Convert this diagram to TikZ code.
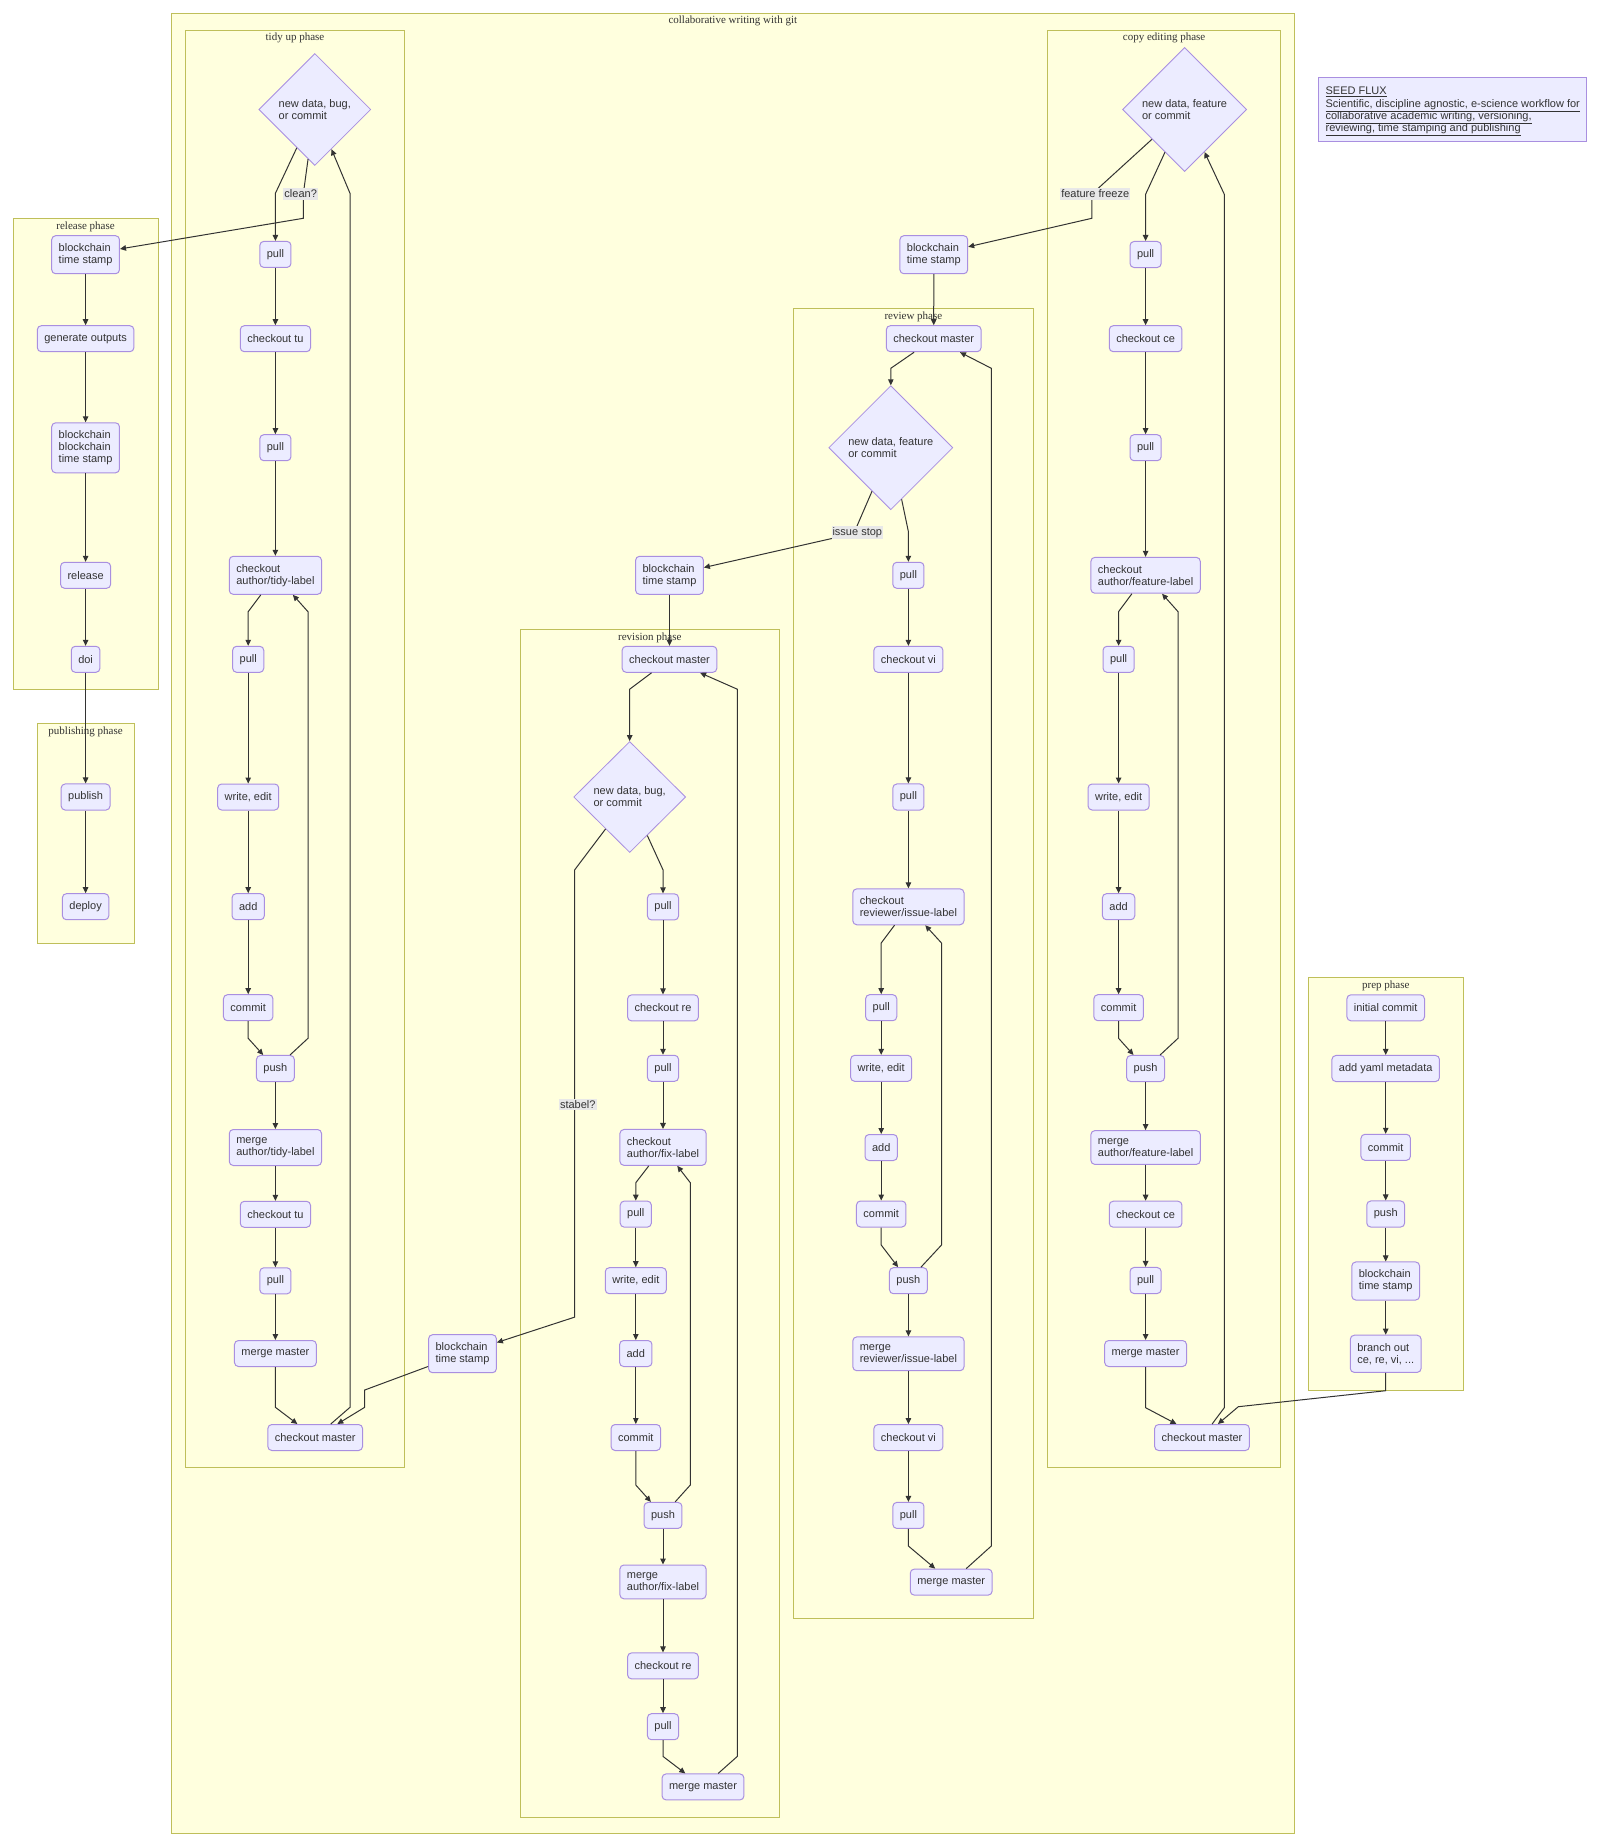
\documentclass[tikz,border=0pt]{standalone}
\usepackage{fontspec}
\setmainfont{Liberation Sans}
\newfontfamily\serifx{Liberation Serif}
\usetikzlibrary{shapes.geometric,arrows.meta}
\definecolor{nfill}{HTML}{ECECFF}
\definecolor{nline}{HTML}{A98FE0}
\definecolor{cfill}{HTML}{FFFFDE}
\definecolor{cline}{HTML}{BFBF5A}
\definecolor{txt}{HTML}{333333}
\definecolor{lblbg}{HTML}{E8E8E8}
\begin{document}
\begin{tikzpicture}[x=1pt,y=-1pt,
  box/.style={draw=nline, fill=nfill, line width=1pt, rounded corners=4pt, align=left,
    inner xsep=7pt, inner ysep=7.9pt, minimum height=26pt,
    font=\fontsize{11}{12}\selectfont, text=txt},
  dia/.style={diamond, draw=nline, fill=nfill, line width=0.8pt, inner sep=0pt, align=left,
    font=\fontsize{11}{12}\selectfont, text=txt},
  cluster/.style={draw=cline, fill=cfill, line width=1pt},
  ctitle/.style={font=\serifx\fontsize{11}{12}\selectfont, text=txt, inner sep=0pt},
  edge/.style={draw=txt, line width=1pt, -{Triangle[length=6pt,width=5.5pt]}},
  elabel/.style={fill=lblbg, text=txt, inner xsep=1pt, inner ysep=1.5pt, font=\fontsize{11}{12}\selectfont},
]
\useasboundingbox (0,0) rectangle (1600,1834);
\fill[white] (0,0) rectangle (1600,1834);

% clusters
\draw[cluster] (171,13.3) rectangle (1294.6,1833);
\draw[cluster] (185.3,30.3) rectangle (404.7,1467.9);
\draw[cluster] (13.3,218.3) rectangle (158,689.3);
\draw[cluster] (37.3,723.7) rectangle (134.3,943.3);
\draw[cluster] (520.3,629.1) rectangle (779.3,1817.5);
\draw[cluster] (793.3,308.3) rectangle (1033.5,1618.2);
\draw[cluster] (1047.5,30.3) rectangle (1280.7,1467.9);
\draw[cluster] (1308,977.3) rectangle (1463.7,1390.3);

\node[ctitle] (t0) at (732.8,21) {collaborative writing with git};
\node[ctitle] (t1) at (295,38.2) {tidy up phase};
\node[ctitle] (t2) at (85.6,226.5) {release phase};
\node[ctitle] (t3) at (85.6,732.2) {publishing phase};
\node[ctitle] (t4) at (649.8,637.5) {revision phase};
\node[ctitle] (t5) at (913.4,316.5) {review phase};
\node[ctitle] (t6) at (1164.1,38.2) {copy editing phase};
\node[ctitle] (t7) at (1385.8,985.5) {prep phase};

% SEED FLUX note
\node[draw=nline, fill=nfill, line width=1pt, minimum width=268.2pt, minimum height=63.6pt, inner sep=0pt] (seed) at (1452.3,109.5) {};
\node[align=left, anchor=north west, inner sep=0pt, font=\fontsize{11}{12.4}\selectfont, text=txt] (seedtext) at (1325.4,86.8)
  {\underline{SEED FLUX}\\\underline{Scientific, discipline agnostic, e-science workflow for}\\\underline{collaborative academic writing, versioning,}\\\underline{reviewing, time stamping and publishing}};

% release + publishing
\node[box] (rb1) at (85.6,254.7) {blockchain\\time stamp};
\node[box] (rgen) at (85.6,338.7) {generate outputs};
\node[box] (rbb) at (85.6,447.8) {blockchain\\blockchain\\time stamp};
\node[box] (rrel) at (85.6,575.3) {release};
\node[box] (rdoi) at (85.6,659.3) {doi};
\node[box] (ppub) at (85.6,797) {publish};
\node[box] (pdep) at (85.6,906.7) {deploy};

% tidy up
\node[dia, minimum width=112pt, minimum height=112pt] (td) at (314.8,109.5) {new data, bug,\\or commit};
\node[box] (tp1) at (275.4,254.4) {pull};
\node[box] (tco1) at (275.4,338.7) {checkout tu};
\node[box] (tp2) at (275.4,447.7) {pull};
\node[box] (tca) at (275.4,575.3) {checkout\\author/tidy-label};
\node[box] (tp3) at (248.2,659.3) {pull};
\node[box] (twe) at (248.2,797) {write, edit};
\node[box] (tad) at (248.2,906.7) {add};
\node[box] (tcm) at (248.2,1007.7) {commit};
\node[box] (tpu) at (275.4,1068.5) {push};
\node[box] (tme) at (275.4,1147.5) {merge\\author/tidy-label};
\node[box] (tco2) at (275.4,1214.3) {checkout tu};
\node[box] (tp4) at (275.4,1280.8) {pull};
\node[box] (tmm) at (275.4,1353.5) {merge master};
\node[box] (tcm2) at (315.2,1437.5) {checkout master};
\node[box] (tbc) at (462.5,1353.7) {blockchain\\time stamp};

% revision
\node[box] (vbc) at (669.5,575.3) {blockchain\\time stamp};
\node[box] (vcm) at (669.5,659.3) {checkout master};
\node[dia, minimum width=112pt, minimum height=111pt] (vd) at (629.7,797) {new data, bug,\\or commit};
\node[box] (vp1) at (663,906.9) {pull};
\node[box] (vco1) at (663,1007.9) {checkout re};
\node[box] (vp2) at (663,1068.3) {pull};
\node[box] (vca) at (663,1147.4) {checkout\\author/fix-label};
\node[box] (vp3) at (635.8,1214.1) {pull};
\node[box] (vwe) at (635.8,1280.7) {write, edit};
\node[box] (vad) at (635.8,1353.5) {add};
\node[box] (vcmt) at (635.8,1437.5) {commit};
\node[box] (vpu) at (663,1515.4) {push};
\node[box] (vme) at (663,1581.9) {merge\\author/fix-label};
\node[box] (vco2) at (663,1665.9) {checkout re};
\node[box] (vp4) at (663,1726.7) {pull};
\node[box] (vmm) at (703,1786.9) {merge master};

% review
\node[box] (wbc) at (933.8,254.7) {blockchain\\time stamp};
\node[box] (wcm) at (933.7,338.7) {checkout master};
\node[dia, minimum width=124pt, minimum height=124pt] (wd) at (890.8,447.7) {new data, feature\\or commit};
\node[box] (wp1) at (908.4,575.3) {pull};
\node[box] (wco1) at (908.4,659.3) {checkout vi};
\node[box] (wp2) at (908.4,797) {pull};
\node[box] (wca) at (908.4,906.8) {checkout\\reviewer/issue-label};
\node[box] (wp3) at (881.2,1007.7) {pull};
\node[box] (wwe) at (881.2,1068.3) {write, edit};
\node[box] (wad) at (881.2,1147.5) {add};
\node[box] (wcmt) at (881.2,1214) {commit};
\node[box] (wpu) at (908.4,1280.7) {push};
\node[box] (wme) at (908.4,1353.8) {merge\\reviewer/issue-label};
\node[box] (wco2) at (908.4,1437.6) {checkout vi};
\node[box] (wp4) at (908.4,1515.4) {pull};
\node[box] (wmm) at (951.2,1582.1) {merge master};

% copy editing
\node[dia, minimum width=124pt, minimum height=124pt] (cd) at (1184.6,109.5) {new data, feature\\or commit};
\node[box] (cp1) at (1145.6,254.5) {pull};
\node[box] (cco1) at (1145.6,338.7) {checkout ce};
\node[box] (cp2) at (1145.6,447.7) {pull};
\node[box] (cca) at (1145.6,575.3) {checkout\\author/feature-label};
\node[box] (cp3) at (1118.6,659.3) {pull};
\node[box] (cwe) at (1118.6,797) {write, edit};
\node[box] (cad) at (1118.6,906.7) {add};
\node[box] (ccmt) at (1118.6,1007.7) {commit};
\node[box] (cpu) at (1145.6,1068.5) {push};
\node[box] (cme) at (1145.6,1147.5) {merge\\author/feature-label};
\node[box] (cco2) at (1145.6,1214.2) {checkout ce};
\node[box] (cp4) at (1145.6,1280.5) {pull};
\node[box] (cmm) at (1145.6,1353.5) {merge master};
\node[box] (ccm) at (1202,1437.5) {checkout master};

% prep
\node[box] (pic) at (1385.7,1007.8) {initial commit};
\node[box] (pay) at (1385.7,1068.5) {add yaml metadata};
\node[box] (pcm) at (1385.7,1147.3) {commit};
\node[box] (ppu) at (1385.7,1214) {push};
\node[box] (pbc) at (1385.7,1281) {blockchain\\time stamp};
\node[box] (pbo) at (1385.7,1353.8) {branch out\\ce, re, vi, ...};

% ---- edges ----
% release / publishing
\draw[edge] (rb1) -- (rgen);
\draw[edge] (rgen) -- (rbb);
\draw[edge] (rbb) -- (rrel);
\draw[edge] (rrel) -- (rdoi);
\draw[edge] (rdoi) -- (ppub);
\draw[edge] (ppub) -- (pdep);

% tidy up
\draw[edge] (td) -- (275.4,193.3) -- (tp1);
\draw[edge] (td) -- (303.3,194) -- (303.3,218.3) -- (rb1);
\draw[edge] (tp1) -- (tco1);
\draw[edge] (tco1) -- (tp2);
\draw[edge] (tp2) -- (tca);
\draw[edge] (tca) -- (248.2,611.7) -- (tp3);
\draw[edge] (tp3) -- (twe);
\draw[edge] (twe) -- (tad);
\draw[edge] (tad) -- (tcm);
\draw[edge] (tcm) -- (248.2,1038.3) -- (tpu);
\draw[edge] (tpu) -- (308,1038.3) -- (308,611.7) -- (tca);
\draw[edge] (tpu) -- (tme);
\draw[edge] (tme) -- (tco2);
\draw[edge] (tco2) -- (tp4);
\draw[edge] (tp4) -- (tmm);
\draw[edge] (tmm) -- (275.4,1407.3) -- (tcm2);
\draw[edge] (tcm2) -- (350,1407.3) -- (350,193.3) -- (td);
\draw[edge] (tbc) -- (364.7,1390) -- (364.7,1407.3) -- (tcm2);

% revision
\draw[edge] (vd) -- (574.7,869.8) -- (574.7,1317.1) -- (tbc);
\draw[edge] (vbc) -- (vcm);
\draw[edge] (vcm) -- (629.7,689.2) -- (vd);
\draw[edge] (vd) -- (663,869.8) -- (vp1);
\draw[edge] (vp1) -- (vco1);
\draw[edge] (vco1) -- (vp2);
\draw[edge] (vp2) -- (vca);
\draw[edge] (vca) -- (635.8,1182.7) -- (vp3);
\draw[edge] (vp3) -- (vwe);
\draw[edge] (vwe) -- (vad);
\draw[edge] (vad) -- (vcmt);
\draw[edge] (vcmt) -- (635.8,1485) -- (vpu);
\draw[edge] (vpu) -- (690.3,1485) -- (690.3,1182.7) -- (vca);
\draw[edge] (vpu) -- (vme);
\draw[edge] (vme) -- (vco2);
\draw[edge] (vco2) -- (vp4);
\draw[edge] (vp4) -- (663,1756.4) -- (vmm);
\draw[edge] (vmm) -- (737.3,1756.4) -- (737.3,689.2) -- (vcm);

% review
\draw[edge] (wd) -- (856.7,526.7) -- (832.7,538.3) -- (vbc);
\draw[edge] (wbc) -- (wcm);
\draw[edge] (wcm) -- (890.8,368.3) -- (wd);
\draw[edge] (wd) -- (908.4,531.7) -- (wp1);
\draw[edge] (wp1) -- (wco1);
\draw[edge] (wco1) -- (wp2);
\draw[edge] (wp2) -- (wca);
\draw[edge] (wca) -- (881.2,943) -- (wp3);
\draw[edge] (wp3) -- (wwe);
\draw[edge] (wwe) -- (wad);
\draw[edge] (wad) -- (wcmt);
\draw[edge] (wcmt) -- (881.2,1245) -- (wpu);
\draw[edge] (wpu) -- (941.5,1245) -- (941.5,943) -- (wca);
\draw[edge] (wpu) -- (wme);
\draw[edge] (wme) -- (wco2);
\draw[edge] (wco2) -- (wp4);
\draw[edge] (wp4) -- (908.4,1546) -- (wmm);
\draw[edge] (wmm) -- (991.3,1546) -- (991.3,368.3) -- (wcm);

% copy editing
\draw[edge] (cd) -- (1098.2,188.3) -- (1091.8,200) -- (1091.8,218.3) -- (wbc);
\draw[edge] (cd) -- (1145.6,194.3) -- (cp1);
\draw[edge] (cp1) -- (cco1);
\draw[edge] (cco1) -- (cp2);
\draw[edge] (cp2) -- (cca);
\draw[edge] (cca) -- (1118.6,611.6) -- (cp3);
\draw[edge] (cp3) -- (cwe);
\draw[edge] (cwe) -- (cad);
\draw[edge] (cad) -- (ccmt);
\draw[edge] (ccmt) -- (1118.6,1038.3) -- (cpu);
\draw[edge] (cpu) -- (1178,1038.3) -- (1178,611.6) -- (cca);
\draw[edge] (cpu) -- (cme);
\draw[edge] (cme) -- (cco2);
\draw[edge] (cco2) -- (cp4);
\draw[edge] (cp4) -- (cmm);
\draw[edge] (cmm) -- (1145.6,1407.7) -- (ccm);
\draw[edge] (ccm) -- (1224.3,1407.7) -- (1224.3,194.3) -- (cd);

% prep
\draw[edge] (pic) -- (pay);
\draw[edge] (pay) -- (pcm);
\draw[edge] (pcm) -- (ppu);
\draw[edge] (ppu) -- (pbc);
\draw[edge] (pbc) -- (pbo);
\draw[edge] (pbo) -- (1385.7,1390.7) -- (1238.3,1406.7) -- (ccm);

% edge labels
\node[elabel] (lclean) at (300.7,194) {clean?};
\node[elabel] (lff) at (1095.2,194) {feature freeze};
\node[elabel] (lis) at (857.3,532.3) {issue stop};
\node[elabel] (lst) at (577.8,1104.4) {stabel?};
\end{tikzpicture}
\end{document}
